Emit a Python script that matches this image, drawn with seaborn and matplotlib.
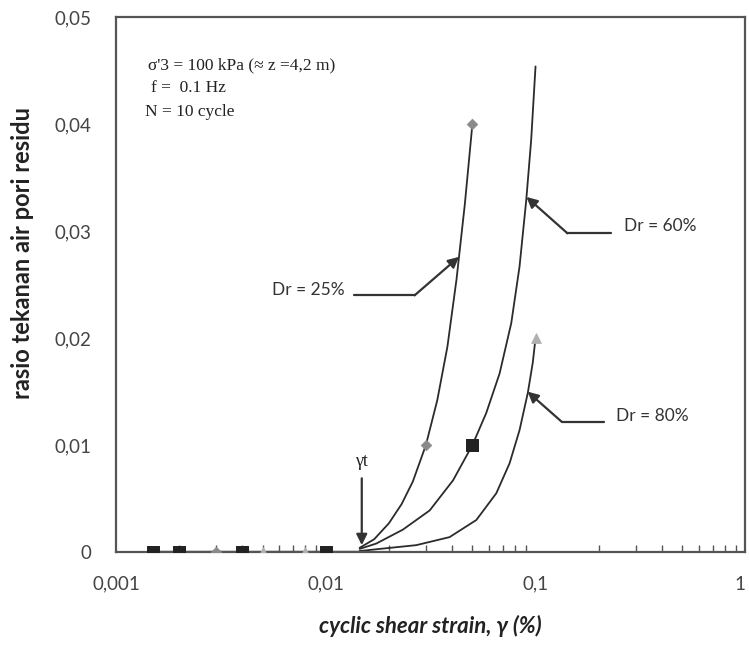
import matplotlib
matplotlib.use("Agg")
import pandas as pd
import matplotlib.pyplot as plt
import seaborn as sns
from matplotlib.ticker import FixedLocator, LogLocator, NullFormatter

# measured points: cyclic shear strain (%) and residual pore pressure ratio
dr25_x = [0.003, 0.03, 0.05]
dr25_y = [0.0, 0.01, 0.04]
dr60_x = [0.0015, 0.002, 0.004, 0.01, 0.05]
dr60_y = [0.0, 0.0, 0.0, 0.0, 0.01]
dr80_x = [0.005, 0.008, 0.1]
dr80_y = [0.0, 0.0, 0.02]

# trend curves
fit25_x = [0.0145, 0.017, 0.02, 0.023, 0.026, 0.03, 0.034, 0.038, 0.042, 0.046, 0.05]
fit25_y = [0.0004, 0.0012, 0.0027, 0.0045, 0.0066, 0.0100, 0.0142, 0.0192,
           0.0255, 0.0325, 0.0400]
fit60_x = [0.0145, 0.0174, 0.0233, 0.0313, 0.0404, 0.05, 0.0582, 0.0674,
           0.0766, 0.0839, 0.0903, 0.0953, 0.1]
fit60_y = [0.0003, 0.0008, 0.0021, 0.0039, 0.0067, 0.0100, 0.0130, 0.0167,
           0.0214, 0.0267, 0.0329, 0.0385, 0.0454]
fit80_x = [0.0145, 0.0181, 0.027, 0.0389, 0.0522, 0.065, 0.0752, 0.0839,
           0.0919, 0.097, 0.1]
fit80_y = [0.0001, 0.0003, 0.00065, 0.0014, 0.0030, 0.0055, 0.0083, 0.0114,
           0.0149, 0.0177, 0.0200]

# zero-level points joined along the axis
base_x = [0.0015, 0.002, 0.003, 0.004, 0.005, 0.008, 0.01, 0.0145]
base_y = [0.0, 0.0, 0.0, 0.0, 0.0, 0.0, 0.0, 0.0]

yticks = [0, 0.01, 0.02, 0.03, 0.04, 0.05]
ytick_labels = ["0", "0,01", "0,02", "0,03", "0,04", "0,05"]
xticks = [0.001, 0.01, 0.1, 1]
xtick_labels = ["0,001", "0,01", "0,1", "1"]

sns.set_style("white")
plt.rcParams["font.family"] = ["Lato", "DejaVu Sans"]

fig = plt.figure(figsize=(7.49, 6.62), dpi=100)
ax = fig.add_axes([0.155, 0.166, 0.840, 0.808])

line_col = "#2b2b2b"
sns.lineplot(x=base_x, y=base_y, ax=ax, color=line_col, lw=2.4, estimator=None, sort=True)
for fx, fy in [(fit25_x, fit25_y), (fit60_x, fit60_y), (fit80_x, fit80_y)]:
    sns.lineplot(x=fx, y=fy, ax=ax, color=line_col, lw=1.3, estimator=None, sort=True)

sns.scatterplot(x=dr25_x, y=dr25_y, ax=ax, marker="D", s=30, color="#8a8a8a",
                edgecolor="#8a8a8a", zorder=5)
sns.scatterplot(x=dr60_x, y=dr60_y, ax=ax, marker="s", s=80, color="#222222",
                edgecolor="#222222", zorder=5)
sns.scatterplot(x=dr80_x, y=dr80_y, ax=ax, marker="^", s=50, color="#b0b0b0",
                edgecolor="#b0b0b0", zorder=5)

ax.set_xscale("log")
ax.set_xlim(0.001, 1)
ax.set_ylim(0, 0.05)
ax.xaxis.set_major_locator(FixedLocator(xticks))
ax.set_xticklabels(xtick_labels)
ax.get_xticklabels()[-1].set_horizontalalignment("right")
ax.xaxis.set_minor_locator(LogLocator(base=10, subs=range(2, 10)))
ax.xaxis.set_minor_formatter(NullFormatter())
ax.set_yticks(yticks)
ax.set_yticklabels(ytick_labels)

for sp in ax.spines.values():
    sp.set_color("#555555")
    sp.set_linewidth(1.6)
ax.tick_params(axis="both", which="major", labelsize=13.5, labelcolor="#444444",
               color="#555555", width=1.2)
ax.tick_params(axis="y", which="major", direction="out", length=7, pad=11)
ax.tick_params(axis="x", which="major", direction="inout", length=10, pad=12)
ax.tick_params(axis="x", which="minor", direction="in", length=5, color="#555555",
               width=1.0, bottom=True)

ax.set_ylabel("rasio tekanan air pori residu", fontsize=17, fontweight="bold",
              color="#222222")
ax.yaxis.set_label_coords(-0.13, 0.56)
ax.set_xlabel("cyclic shear strain, γ (%)", fontsize=16, fontweight="bold",
              fontstyle="italic", color="#222222", labelpad=16)

# test conditions
serif = ["Liberation Serif", "DejaVu Serif"]
ax.text(0.051, 0.91, "σ'3 = 100 kPa (≈ z =4,2 m)", transform=ax.transAxes,
        fontsize=12.5, family=serif, va="center", color="#222222")
ax.text(0.055, 0.867, "f =  0.1 Hz", transform=ax.transAxes,
        fontsize=12.5, family=serif, va="center", color="#222222")
ax.text(0.046, 0.822, "N = 10 cycle", transform=ax.transAxes,
        fontsize=12.5, family=serif, va="center", color="#222222")

# curve labels with elbow arrows
arrow = dict(arrowstyle="-|>", color="#333333", lw=1.6, mutation_scale=16,
             shrinkA=0, shrinkB=0)
labels = [
    ("Dr = 25%", (0.0432, 0.0276), (0.0265, 0.0240), (0.0137, 0.0240), (0.0123, 0.0245), "right"),
    ("Dr = 60%", (0.0905, 0.0332), (0.142, 0.0298), (0.228, 0.0298), (0.265, 0.0305), "left"),
    ("Dr = 80%", (0.0916, 0.0150), (0.133, 0.0122), (0.213, 0.0122), (0.243, 0.0127), "left"),
]
for txt, tip, elbow, end, pos, ha in labels:
    ax.annotate("", xy=tip, xytext=elbow, arrowprops=arrow)
    ax.plot([elbow[0], end[0]], [elbow[1], end[1]], color="#333333", lw=1.6)
    ax.text(pos[0], pos[1], txt, fontsize=12.5, ha=ha, va="center", color="#333333")

# threshold strain
ax.annotate("", xy=(0.01484, 0.00065), xytext=(0.01484, 0.0069), arrowprops=arrow)
ax.text(0.01484, 0.0077, "γt", family=serif, fontsize=13, ha="center", va="bottom",
        color="#222222")

fig.savefig("out.png", dpi=100)
